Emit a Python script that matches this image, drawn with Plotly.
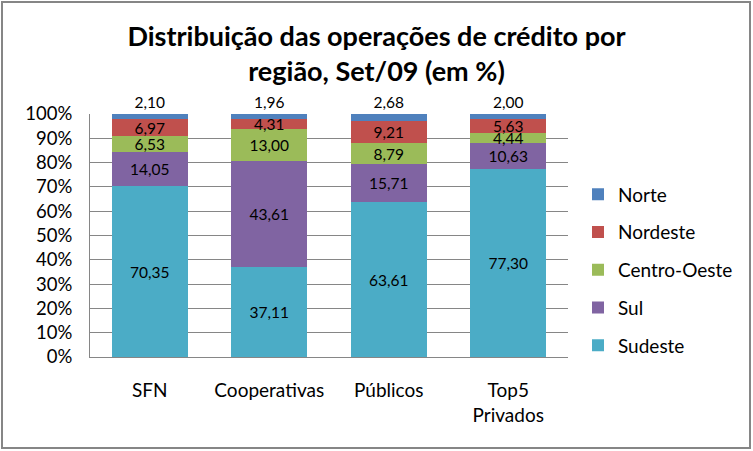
import plotly.graph_objects as go

categories = ["SFN", "Cooperativas", "Públicos", "Top5<br>Privados"]
series_names = ["Sudeste", "Sul", "Centro-Oeste", "Nordeste", "Norte"]
sudeste = [70.35, 37.11, 63.61, 77.30]
sul = [14.05, 43.61, 15.71, 10.63]
centro_oeste = [6.53, 13.00, 8.79, 4.44]
nordeste = [6.97, 4.31, 9.21, 5.63]
norte = [2.10, 1.96, 2.68, 2.00]
colors = ["#4BACC6", "#8064A2", "#9BBB59", "#C0504D", "#4F81BD"]
y_ticks = [0, 10, 20, 30, 40, 50, 60, 70, 80, 90, 100]
y_tick_labels = [f"{v}%" for v in y_ticks]

FONT = "Lato, Carlito, 'Liberation Sans', sans-serif"

def fmt(v):
    return f"{v:.2f}".replace(".", ",")

fig = go.Figure()
all_series = [sudeste, sul, centro_oeste, nordeste, norte]
n = len(series_names)
for i, (name, vals, col) in enumerate(zip(series_names, all_series, colors)):
    fig.add_trace(go.Bar(
        x=categories, y=vals, name=name, marker=dict(color=col, line=dict(width=0)),
        text=[fmt(v) for v in vals],
        textposition="outside" if name == "Norte" else "inside",
        insidetextanchor="middle",
        textangle=0,
        constraintext="none",
        textfont=dict(family=FONT, size=15.5, color="black"),
        cliponaxis=False,
        legendgroup=name,
        legendrank=n - i,
        hoverinfo="skip",
    ))

L, R, T, B = 90, 568, 114, 357
W, H = 753, 451
pw, ph = R - L, B - T

fig.update_layout(
    width=W, height=H,
    barmode="stack", bargap=0.36,
    margin=dict(l=L, r=W - R, t=T, b=H - B),
    paper_bgcolor="white", plot_bgcolor="white",
    font=dict(family=FONT, size=19, color="black"),
    uniformtext=dict(mode=False),
    title=dict(text="<b>Distribuição das operações de crédito por<br>região, Set/09 (em %)</b>",
               x=0.5, xanchor="center", y=1 - 46 / H, yanchor="middle",
               font=dict(family=FONT, size=27, color="black")),
    legend=dict(x=(578 - L) / pw, xanchor="left", y=(B - 270) / ph, yanchor="middle",
                traceorder="grouped", tracegroupgap=10,
                font=dict(family=FONT, size=19, color="black"), bgcolor="rgba(0,0,0,0)"),
    showlegend=True,
)
fig.update_yaxes(range=[0, 100], tickvals=y_ticks, ticktext=y_tick_labels,
                 showgrid=True, gridcolor="#868686", gridwidth=1,
                 showline=True, linecolor="#868686", linewidth=1,
                 ticks="", ticklabelstandoff=13, zeroline=False,
                 tickfont=dict(family=FONT, size=18.5))
fig.update_xaxes(showline=True, linecolor="#868686", linewidth=1, ticks="",
                 ticklabelstandoff=16, tickfont=dict(family=FONT, size=19))

fig.add_shape(type="rect", xref="paper", yref="paper",
              x0=(2 - L) / pw, x1=(750 - L) / pw, y0=(B - 448) / ph, y1=(B - 2) / ph,
              line=dict(color="#868686", width=2), fillcolor="rgba(0,0,0,0)", layer="below")

fig.write_html("out.html", config={"displayModeBar": False},
               post_script="document.body.style.margin='0';")
